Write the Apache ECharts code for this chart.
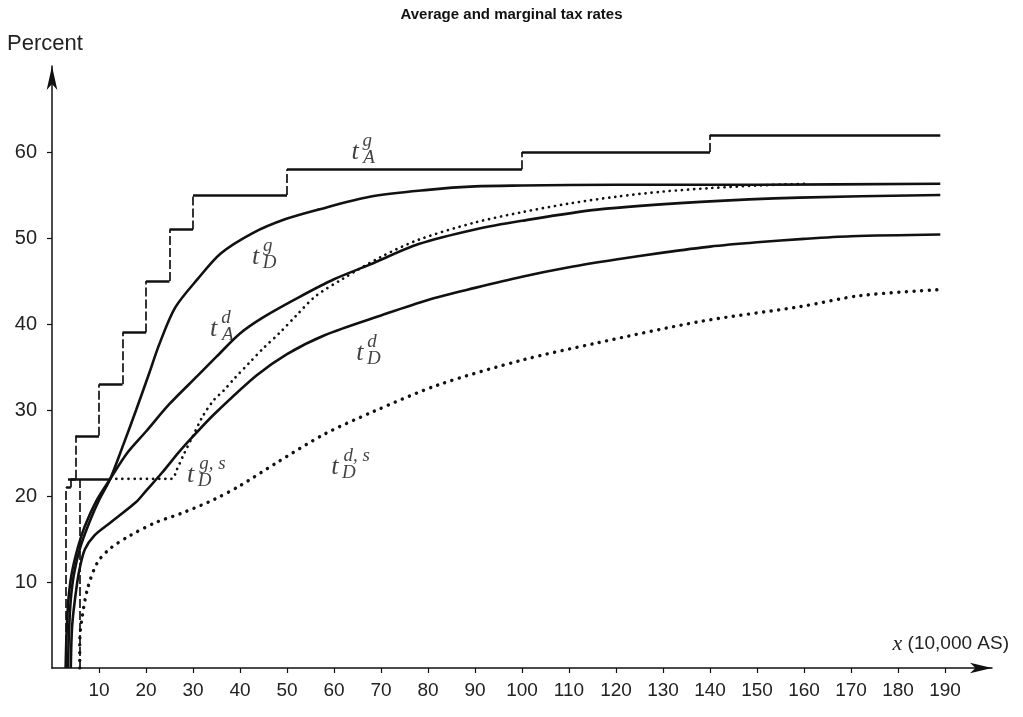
<!DOCTYPE html>
<html><head><meta charset="utf-8">
<script src="https://cdn.jsdelivr.net/npm/echarts@6/dist/echarts.min.js"></script>
<style>html,body{margin:0;padding:0;background:#fff}#c{width:1023px;height:717px}</style>
</head><body><div id="c"></div>
<script>
// ---- data ----
const xTicks = [10,20,30,40,50,60,70,80,90,100,110,120,130,140,150,160,170,180,190];
const yTicks = [10,20,30,40,50,60];
// marginal rate t_A^g (step function): bracket starts and rates
const bracketX = [3, 4, 5, 10, 15, 20, 25, 30, 50, 100, 140];
const bracketRate = [21, 22, 27, 33, 39, 45, 51, 55, 58, 60, 62];
const bracketEnd = 189;
// t_D^g
const tDg = [[3.4,0],[3.6,4],[4.0,8],[4.7,11],[6,14],[8,17],[10,19.5],[12.4,22],[15.2,26],[17.9,30],[20.7,34.3],[22.8,37.6],[26.2,41.9],[31.1,45.3],[35.9,48.2],[42.8,50.6],[49.7,52.2],[56.6,53.3],[67.6,54.8],[80,55.6],[90,56],[100,56.1],[120,56.2],[150,56.2],[189,56.3]];
// t_A^d
const tAd = [[2.9,0],[3.1,4],[3.5,8],[4.2,11],[5.5,14],[7,16.5],[9.5,19.5],[12.4,22],[16,25],[20,27.5],[25,30.7],[31,34],[35,36.2],[40,38.9],[45,40.8],[52.5,43.1],[60,45.2],[67.6,46.9],[78,49.3],[90,51],[100,52],[116,53.3],[138,54.2],[159,54.7],[189,55]];
// t_D^d
const tDd = [[4,0],[4.3,5],[5.2,9.3],[5.9,11.6],[7,13.8],[9,15.4],[12.4,16.9],[17.9,19.3],[20,20.6],[23.4,22.7],[27,25.1],[30.3,27.1],[34.5,29.5],[43.5,34],[50,36.5],[58,38.7],[70,41],[80,42.8],[90,44.2],[100,45.5],[110,46.6],[120,47.5],[130,48.3],[140,49],[150,49.5],[160,49.9],[170,50.2],[189,50.4]];
// t_D^{g,s}
const tDgsVertical = [[5.9,0],[5.9,22]];
const tDgsFlat = [[3.4,22],[12.4,22]];
const tDgs = [[12.4,22],[25.5,22],[26.5,23],[28,24.8],[30,27],[32.1,29.3],[34.5,31.2],[36.6,32.3],[38.7,33.6],[42,35.5],[45,37.2],[48.3,38.9],[52,41],[56,43.2],[62,45.3],[70,47.8],[78,49.8],[90,51.8],[100,53],[110,54],[120,54.8],[130,55.4],[140,55.8],[150,56.1],[160,56.3]];
// t_D^{d,s}
const tDds = [[5.9,0],[5.9,3],[6.3,5.5],[7.6,9.3],[9.7,12.3],[12.4,13.9],[16.6,15.4],[22,16.9],[27.6,18],[34.5,19.6],[40,21.2],[47.6,23.8],[58,27.2],[68.3,29.8],[82.1,32.9],[100,35.8],[116,37.8],[138,40.3],[159,42],[172,43.3],[189,44]];
// curve name labels
const labelNames = [
  {sup:'g', sub:'A'}, {sup:'g', sub:'D'}, {sup:'d', sub:'A'},
  {sup:'d', sub:'D'}, {sup:'g, s', sub:'D'}, {sup:'d, s', sub:'D'}
];
// ---- layout (anchor points for labels, in axis units) ----
const labelAnchors = [[64.5,60.0],[43.3,47.8],[34.4,39.4],[65.5,36.6],[29.5,22.4],[60.2,23.4]];

const chart = echarts.init(document.getElementById('c'), null, {renderer:'canvas'});
const ink = '#111';
const serif = '"Liberation Serif","DejaVu Serif",serif';
const sans = '"Liberation Sans",Arial,sans-serif';

const hSegs = [], vSegs = [];
for (let i = 0; i < bracketX.length; i++) {
  const x2 = i + 1 < bracketX.length ? bracketX[i+1] : bracketEnd;
  hSegs.push({coords: [[bracketX[i], bracketRate[i]], [x2, bracketRate[i]]]});
  vSegs.push({coords: [[bracketX[i], i ? bracketRate[i-1] : 0], [bracketX[i], bracketRate[i]]]});
}
vSegs.push({coords: tDgsVertical});
hSegs.push({coords: tDgsFlat});

const labelData = [];
labelNames.forEach((n, i) => {
  const p = labelAnchors[i];
  labelData.push({value: p, label: {formatter: '{t|t}', offset: [0, 0]}});
  labelData.push({value: p, label: {formatter: '{s|' + n.sup + '}', offset: [9 + n.sup.length * 3.2, -11]}});
  labelData.push({value: p, label: {formatter: '{s|' + n.sub + '}', offset: [14, 6]}});
});

function curve(data, style) {
  return {type: 'line', data: data, showSymbol: false, symbol: 'none', smooth: 0.3,
    lineStyle: Object.assign({color: ink, width: 2.6}, style), silent: true, z: 3};
}

chart.setOption({
  animation: false,
  title: {text: 'Average and marginal tax rates', left: 'center', top: 2,
    textStyle: {fontFamily: sans, fontWeight: 'bold', fontSize: 15, color: ink}},
  grid: {left: 52, right: 31, top: 66, bottom: 49},
  xAxis: {type: 'value', min: 0, max: 200,
    axisLine: {show: true, onZero: true, symbol: ['none', 'arrow'], symbolSize: [8, 22], lineStyle: {color: ink, width: 1.5}},
    axisTick: {show: true, inside: false, length: 5, customValues: xTicks, lineStyle: {color: ink, width: 1.2}},
    axisLabel: {show: true, customValues: xTicks, margin: 13, fontFamily: sans, fontSize: 19, color: '#222'},
    splitLine: {show: false}},
  yAxis: {type: 'value', min: 0, max: 70,
    axisLine: {show: true, onZero: true, symbol: ['none', 'arrow'], symbolSize: [8, 24], lineStyle: {color: ink, width: 1.5}},
    axisTick: {show: true, inside: false, length: 5, customValues: yTicks, lineStyle: {color: ink, width: 1.2}},
    axisLabel: {show: true, customValues: yTicks, margin: 15, fontFamily: sans, fontSize: 20, color: '#222'},
    splitLine: {show: false}},
  graphic: [
    {type: 'text', left: 7, top: 33, style: {text: 'Percent', font: '22px ' + sans, fill: '#222'}},
    {type: 'text', right: 14, top: 633, style: {text: '{i|x} (10,000 AS)', fill: '#222',
      rich: {i: {fontFamily: serif, fontStyle: 'italic', fontSize: 22, fill: '#222'}},
      font: '19px ' + sans}}
  ],
  series: [
    {type: 'lines', coordinateSystem: 'cartesian2d', polyline: false, silent: true, z: 4,
      data: hSegs, lineStyle: {color: ink, width: 2.6, type: 'solid', opacity: 1}},
    {type: 'lines', coordinateSystem: 'cartesian2d', polyline: false, silent: true, z: 4,
      data: vSegs, lineStyle: {color: ink, width: 1.7, type: [9, 3], opacity: 1}},
    curve(tDg, {}),
    curve(tAd, {}),
    curve(tDd, {}),
    curve(tDgs, {width: 2.7, type: [0.1, 6], cap: 'round'}),
    curve(tDds, {width: 3.4, type: [0.1, 7.5], cap: 'round'}),
    {type: 'scatter', symbolSize: 0, silent: true, z: 6, data: labelData,
      label: {show: true, position: 'inside', color: ink,
        rich: {t: {fontFamily: serif, fontStyle: 'italic', fontSize: 26, color: ink},
               s: {fontFamily: serif, fontStyle: 'italic', fontSize: 19, color: ink}}}}
  ]
});
</script></body></html>
